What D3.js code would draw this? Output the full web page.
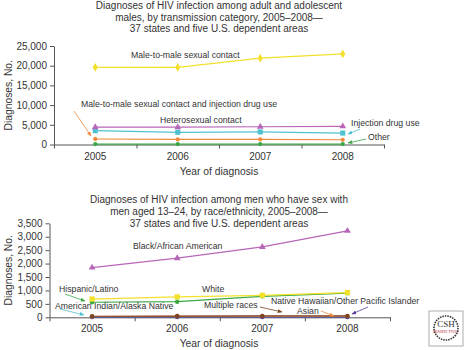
<!DOCTYPE html>
<html>
<head>
<meta charset="utf-8">
<script src="https://cdn.jsdelivr.net/npm/d3@7"></script>
<style>
  body { margin: 0; background: #fff; }
  text { font-family: "Liberation Sans", Arial, Helvetica, sans-serif; fill: #333; }
</style>
</head>
<body>
<div id="chart"></div>
<script>
const years = ["2005", "2006", "2007", "2008"];

// top panel: transmission category
const msm = [19600, 19600, 21900, 23000];
const hetero = [4400, 4400, 4500, 4600];
const idu = [3500, 3100, 3200, 2900];
const msmIdu = [1400, 1300, 1300, 1200];
const other = [100, 100, 100, 100];
const topTicks = [0, 5000, 10000, 15000, 20000, 25000];

// bottom panel: race/ethnicity, MSM aged 13-24
const black = [1850, 2200, 2620, 3220];
const hispanic = [560, 580, 780, 900];
const white = [680, 760, 820, 920];
const amInd = [10, 10, 10, 10];
const nhopi = [5, 5, 5, 5];
const asian = [30, 35, 40, 40];
const multiRace = [40, 45, 50, 50];
const bottomTicks = [0, 500, 1000, 1500, 2000, 2500, 3000, 3500];

const W = 467, H = 350;
const svg = d3.select("#chart").append("svg")
    .attr("width", W)
    .attr("height", H);

const defs = svg.append("defs");
function arrowMarker(id, color) {
  defs.append("marker")
      .attr("id", id)
      .attr("viewBox", "0 0 10 10")
      .attr("refX", 9).attr("refY", 5)
      .attr("markerWidth", 6).attr("markerHeight", 6)
      .attr("orient", "auto")
    .append("path")
      .attr("d", "M0,1 L10,5 L0,9 Z")
      .attr("fill", color);
}

function panel(opt) {
  const g = svg.append("g");

  // title
  opt.title.forEach((t, i) => {
    g.append("text")
        .attr("x", 219)
        .attr("y", opt.titleY + i * opt.titleStep)
        .attr("text-anchor", "middle")
        .style("font-size", "10px")
        .text(t);
  });

  const x = d3.scaleBand().domain(years).range(opt.xRange);
  const xEdge = d3.scaleLinear().domain([0, years.length]).range(opt.xRange);
  const y = d3.scaleLinear().domain([0, opt.max]).range(opt.yRange);

  const yAxis = g.append("g")
      .attr("transform", `translate(${opt.xRange[0]},0)`)
      .call(d3.axisLeft(y).tickValues(opt.ticks).tickFormat(d3.format(",")).tickSize(4).tickSizeOuter(0));
  yAxis.selectAll("text").style("font-size", "10px").attr("x", -7);

  g.append("g")
      .attr("transform", `translate(0,${opt.yRange[0]})`)
      .call(d3.axisBottom(xEdge).tickValues(d3.range(years.length + 1)).tickFormat("").tickSize(4).tickSizeOuter(0));

  g.selectAll(".domain, .tick line").attr("stroke", "#555");

  g.selectAll(".year")
    .data(years)
    .enter().append("text")
      .attr("class", "year")
      .attr("x", d => x(d) + x.bandwidth() / 2)
      .attr("y", opt.yRange[0] + 15)
      .attr("text-anchor", "middle")
      .style("font-size", "10px")
      .text(d => d);

  g.append("text")
      .attr("x", 219)
      .attr("y", opt.yRange[0] + 30)
      .attr("text-anchor", "middle")
      .style("font-size", "10.3px")
      .text("Year of diagnosis");

  g.append("text")
      .attr("transform", `translate(12,${(opt.yRange[0] + opt.yRange[1]) / 2}) rotate(-90)`)
      .attr("text-anchor", "middle")
      .style("font-size", "10.3px")
      .text("Diagnoses, No.");

  const line = d3.line()
      .x((d, i) => x(years[i]) + x.bandwidth() / 2)
      .y(d => y(d));

  opt.series.forEach(s => {
    g.append("path")
        .datum(s.values)
        .attr("d", line)
        .attr("fill", "none")
        .attr("stroke", s.color)
        .attr("stroke-width", 1.2);
    g.selectAll(null)
      .data(s.values)
      .enter().append("path")
        .attr("transform", (d, i) => `translate(${x(years[i]) + x.bandwidth() / 2},${y(d)})`)
        .attr("d", d3.symbol().type(s.symbol).size(s.size))
        .attr("fill", s.color);
  });

  opt.labels.forEach(l => {
    g.append("text")
        .attr("x", l.x)
        .attr("y", l.y)
        .style("font-size", "8.7px")
        .text(l.text);
    if (l.arrow) {
      arrowMarker(l.id, l.color);
      g.append("line")
          .attr("x1", l.arrow[0]).attr("y1", l.arrow[1])
          .attr("x2", l.arrow[2]).attr("y2", l.arrow[3])
          .attr("stroke", l.color)
          .attr("stroke-width", 0.8)
          .attr("marker-end", `url(#${l.id})`);
    }
  });
}

panel({
  title: ["Diagnoses of HIV infection among adult and adolescent",
          "males, by transmission category, 2005\u20132008\u2014",
          "37 states and five U.S. dependent areas"],
  titleY: 9, titleStep: 11.5,
  xRange: [54, 384], yRange: [144.5, 46], max: 25000, ticks: topTicks,
  series: [
    { values: other, color: "#3aa845", symbol: d3.symbolCircle, size: 14 },
    { values: msmIdu, color: "#f08a3c", symbol: d3.symbolCircle, size: 14 },
    { values: idu, color: "#4fc0d0", symbol: d3.symbolSquare, size: 26 },
    { values: hetero, color: "#b866b8", symbol: d3.symbolTriangle, size: 20 },
    { values: msm, color: "#f3e02a", symbol: d3.symbolDiamond, size: 22 }
  ],
  labels: [
    { text: "Male-to-male sexual contact", x: 131, y: 58 },
    { text: "Male-to-male sexual contact and injection drug use", x: 81, y: 107,
      arrow: [74, 111, 91, 136], color: "#f08a3c", id: "a1" },
    { text: "Heterosexual contact", x: 160, y: 123 },
    { text: "Injection drug use", x: 351, y: 126,
      arrow: [360, 129, 348, 134], color: "#4fc0d0", id: "a2" },
    { text: "Other", x: 368, y: 140,
      arrow: [366, 139, 348, 143], color: "#3aa845", id: "a3" }
  ]
});

panel({
  title: ["Diagnoses of HIV infection among men who have sex with",
          "men aged 13\u201324, by race/ethnicity, 2005\u20132008\u2014",
          "37 states and five U.S. dependent areas"],
  titleY: 203, titleStep: 12,
  xRange: [49.5, 390], yRange: [317.3, 223.3], max: 3500, ticks: bottomTicks,
  series: [
    { values: amInd, color: "#4fc0d0", symbol: d3.symbolCircle, size: 14 },
    { values: nhopi, color: "#5b3c9c", symbol: d3.symbolCircle, size: 14 },
    { values: asian, color: "#f08a3c", symbol: d3.symbolCircle, size: 14 },
    { values: multiRace, color: "#7a4322", symbol: d3.symbolCircle, size: 16 },
    { values: hispanic, color: "#3aa845", symbol: d3.symbolCircle, size: 16 },
    { values: white, color: "#f3e02a", symbol: d3.symbolSquare, size: 28 },
    { values: black, color: "#b866b8", symbol: d3.symbolTriangle, size: 20 }
  ],
  labels: [
    { text: "Black/African American", x: 133, y: 249 },
    { text: "Hispanic/Latino", x: 59, y: 292,
      arrow: [65, 294, 85, 301], color: "#3aa845", id: "b1" },
    { text: "White", x: 202, y: 292 },
    { text: "American Indian/Alaska Native", x: 55, y: 309,
      arrow: [60, 309, 84, 315], color: "#4fc0d0", id: "b2" },
    { text: "Multiple races", x: 204, y: 308,
      arrow: [260, 307, 282, 312], color: "#7a4322", id: "b3" },
    { text: "Native Hawaiian/Other Pacific Islander", x: 271, y: 304,
      arrow: [368, 307, 352, 314], color: "#5b3c9c", id: "b4" },
    { text: "Asian", x: 297, y: 314,
      arrow: [321, 311, 334, 316], color: "#f08a3c", id: "b5" }
  ]
});

// publisher badge
const logo = svg.append("g").attr("transform", "translate(429,311)");
logo.append("rect")
    .attr("width", 34).attr("height", 35)
    .attr("fill", "#fff")
    .attr("stroke", "#999")
    .attr("stroke-width", 0.8);
logo.append("circle")
    .attr("cx", 17).attr("cy", 17).attr("r", 12)
    .attr("fill", "none")
    .attr("stroke", "#333")
    .attr("stroke-width", 1.6)
    .attr("stroke-dasharray", "1.5,1");
logo.append("text")
    .attr("x", 17).attr("y", 16)
    .attr("text-anchor", "middle")
    .style("font-family", "'Liberation Serif', serif")
    .style("font-size", "9px")
    .text("CSH");
logo.append("text")
    .attr("x", 17).attr("y", 22)
    .attr("text-anchor", "middle")
    .style("font-family", "'Liberation Serif', serif")
    .style("font-size", "3.6px")
    .style("fill", "#b0282e")
    .text("PERSPECTIVES");
</script>
</body>
</html>
